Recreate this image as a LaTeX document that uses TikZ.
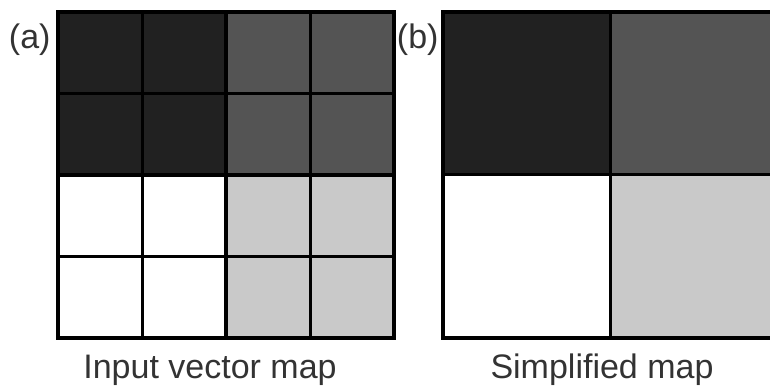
\documentclass[tikz,border=0pt]{standalone}
\usepackage{fontspec}
\setmainfont{Liberation Sans}
\usetikzlibrary{positioning}

\begin{document}
\begin{tikzpicture}[x=1pt,y=-1pt,node distance=0pt,line width=3pt,
		font=\fontsize{34}{40}\selectfont]

		\tikzset{cell/.style={draw, inner sep=0pt, outer sep=0pt,
				minimum width=84pt, minimum height=81.5pt}}
		\tikzset{big cell/.style={cell,
				minimum width=167pt, minimum height=163pt}}
		\tikzset{cell dark/.style={fill=black!87}}
		\tikzset{cell mid/.style={fill=black!67}}
		\tikzset{cell light/.style={fill=black!21}}
		\tikzset{cell white/.style={fill=white}}
		\tikzset{tag/.style={inner sep=0pt, text=black!80}}

	\useasboundingbox (0,0) rectangle (770,387);

	% (a) input vector map, 4 x 4
	\node[cell, cell dark, anchor=north west] (a11) at (58,12) {};
	\node[cell, cell dark, right=of a11] (a12) {};
	\node[cell, cell mid, right=of a12] (a13) {};
	\node[cell, cell mid, right=of a13] (a14) {};

	\node[cell, cell dark, below=of a11] (a21) {};
	\node[cell, cell dark, right=of a21] (a22) {};
	\node[cell, cell mid, right=of a22] (a23) {};
	\node[cell, cell mid, right=of a23] (a24) {};

	\node[cell, cell white, below=of a21] (a31) {};
	\node[cell, cell white, right=of a31] (a32) {};
	\node[cell, cell light, right=of a32] (a33) {};
	\node[cell, cell light, right=of a33] (a34) {};

	\node[cell, cell white, below=of a31] (a41) {};
	\node[cell, cell white, right=of a41] (a42) {};
	\node[cell, cell light, right=of a42] (a43) {};
	\node[cell, cell light, right=of a43] (a44) {};

	\draw[line width=4.4pt]
	(a11.north west) rectangle (a44.south east)
	(a13.north west) -- (a43.south west)
	(a31.north west) -- (a34.north east);

	% (b) simplified map, 2 x 2
	\node[big cell, cell dark, anchor=north west] (b11) at (443,12) {};
	\node[big cell, cell mid, right=of b11] (b12) {};
	\node[big cell, cell white, below=of b11] (b21) {};
	\node[big cell, cell light, right=of b21] (b22) {};

	\draw[line width=4.4pt] (b11.north west) rectangle (b22.south east);

	% labels
	\node[tag, anchor=north east] (lbla) at ([xshift=-6pt,yshift=-10pt]a11.north west) {(a)};
	\node[tag, anchor=north east] (lblb) at ([xshift=-3pt,yshift=-10pt]b11.north west) {(b)};

	\node[tag, anchor=base] (capa) at (210,378) {Input vector map};
	\node[tag, anchor=base] (capb) at (602,378) {Simplified map};
	\end{tikzpicture}
\end{document}
